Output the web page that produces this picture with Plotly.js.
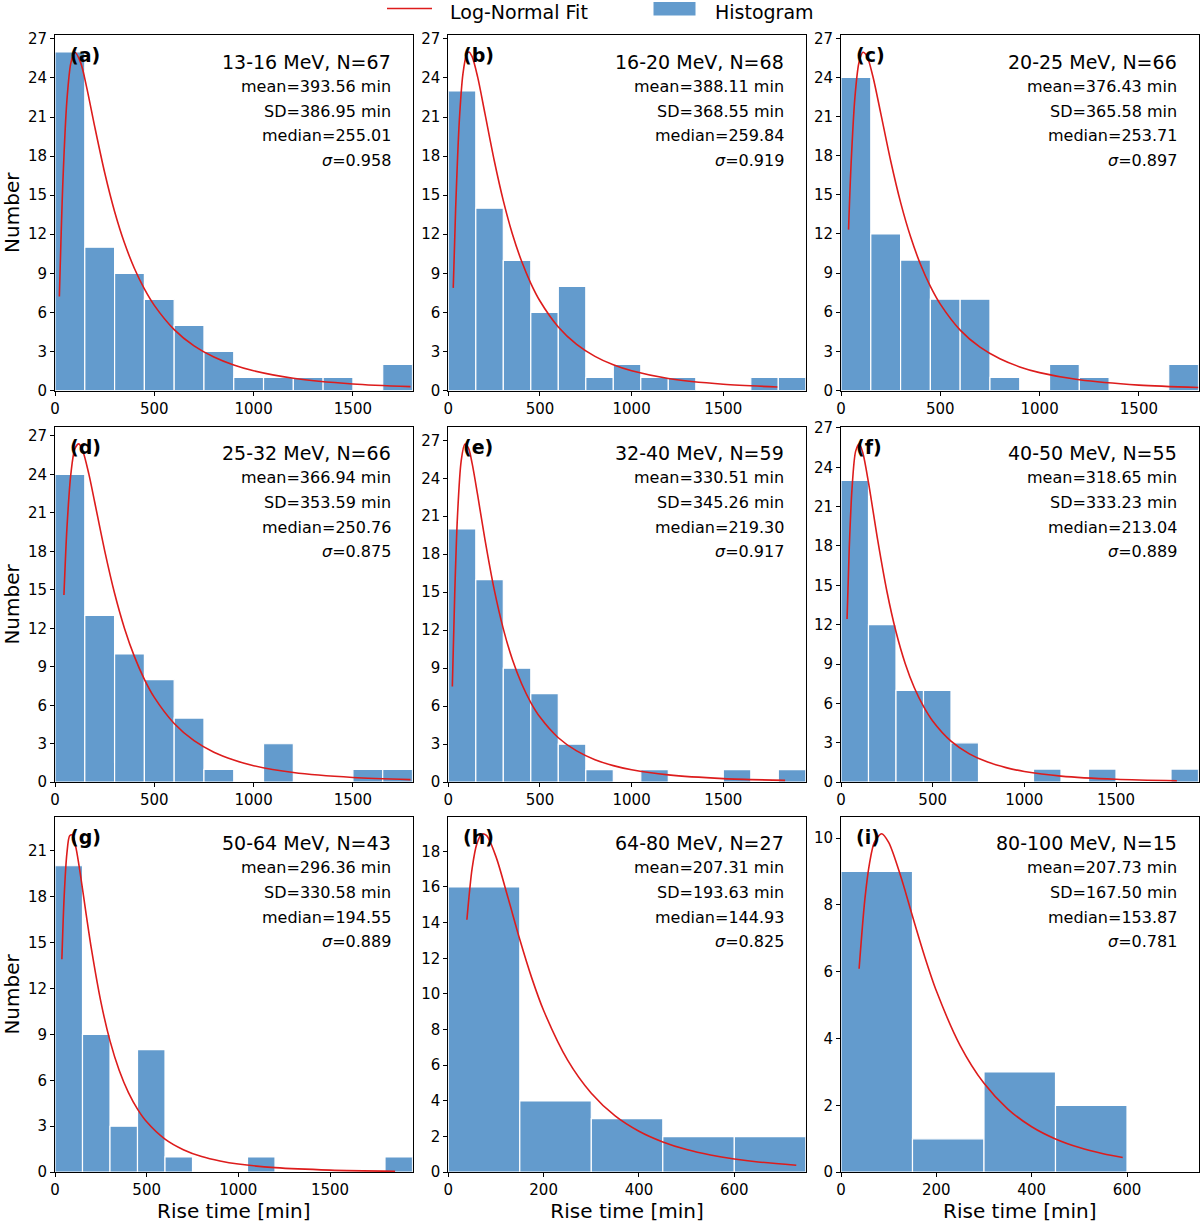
<!DOCTYPE html>
<html>
<head>
<meta charset="utf-8">
<script src="https://cdn.plot.ly/plotly-3.0.1.min.js"></script>
<style>html,body{margin:0;padding:0;background:#fff;}</style>
</head>
<body>
<div id="chart" style="width:1200px;height:1223px;"></div>
<script>
// ---------------- DATA ----------------
const BIN_WIDTH = 150;
const panelLabels = ['(a)','(b)','(c)','(d)','(e)','(f)','(g)','(h)','(i)'];
const energyBands = ['13-16 MeV','16-20 MeV','20-25 MeV','25-32 MeV','32-40 MeV','40-50 MeV','50-64 MeV','64-80 MeV','80-100 MeV'];
const nEvents = [67,68,66,66,59,55,43,27,15];
const meanVals = ['393.56','388.11','376.43','366.94','330.51','318.65','296.36','207.31','207.73'];
const sdVals = ['386.95','368.55','365.58','353.59','345.26','333.23','330.58','193.63','167.50'];
const medianVals = ['255.01','259.84','253.71','250.76','219.30','213.04','194.55','144.93','153.87'];
const sigmaVals = ['0.958','0.919','0.897','0.875','0.917','0.889','0.889','0.825','0.781'];
const legendNames = ['Log-Normal Fit','Histogram'];

// histogram counts per 150-min bin, starting at 0
const counts_a = [26,11,9,7,5,3,1,1,1,1,0,2];
const counts_b = [23,14,10,6,8,1,2,1,1,0,0,1,1];
const counts_c = [24,12,10,7,7,1,0,2,1,0,0,2];
const counts_d = [24,13,10,8,5,1,0,3,0,0,1,1];
const counts_e = [20,16,9,7,3,1,0,1,0,0,1,0,1];
const counts_f = [23,12,7,7,3,0,0,1,0,1,0,0,1];
const counts_g = [20,9,3,8,1,0,0,1,0,0,0,0,1];
const counts_h = [16,4,3,2,2];
const counts_i = [9,1,3,2,0];

// log-normal fit curves
const fitX_a = [22,40,60,80,100,130,160,200,250,300,350,400,450,500,600,700,800,900,1000,1200,1500,1790];
const fitY_a = [7.22,16.13,22.29,25.16,25.97,25.14,23.24,20.26,16.74,13.75,11.32,9.37,7.80,6.54,4.68,3.43,2.57,1.955,1.51,0.944,0.504,0.295];
const fitX_b = [27,40,60,80,100,112,130,160,200,250,300,350,400,450,500,600,700,800,900,1000,1200,1500,1795];
const fitY_b = [7.88,13.93,20.69,24.34,25.81,26.0,25.64,24.08,21.26,17.70,14.58,12.00,9.92,8.23,6.87,4.88,3.54,2.62,1.97,1.51,0.923,0.479,0.270];
const fitX_c = [38,50,70,90,110,130,160,200,250,300,350,400,450,500,600,700,800,900,1000,1200,1500,1800];
const fitY_c = [12.33,17.09,22.45,25.10,25.93,25.65,24.11,21.26,17.61,14.42,11.80,9.68,7.98,6.62,4.63,3.32,2.43,1.81,1.37,0.818,0.412,0.225];
const fitX_d = [45,60,80,100,120,140,170,200,250,300,350,400,450,500,600,700,800,900,1000,1200,1500,1790];
const fitY_d = [14.60,19.79,24.06,25.99,26.38,25.83,24.06,21.83,18.06,14.73,11.99,9.79,8.02,6.61,4.58,3.24,2.34,1.73,1.29,0.759,0.372,0.202];
const fitX_e = [22,35,50,70,90,110,130,160,200,250,300,350,400,450,500,600,700,800,900,1000,1200,1500,1837];
const fitY_e = [7.55,14.85,20.99,25.33,26.69,26.37,25.17,22.68,19.15,15.24,12.11,9.66,7.77,6.29,5.14,3.51,2.47,1.78,1.31,0.979,0.576,0.285,0.143];
const fitX_f = [33,45,60,80,100,120,150,200,250,300,350,400,450,500,600,700,800,900,1000,1200,1500,1832];
const fitY_f = [12.43,17.83,22.34,25.23,25.79,25.05,22.83,18.46,14.57,11.46,9.05,7.20,5.78,4.67,3.13,2.16,1.53,1.11,0.816,0.466,0.222,0.108];
const fitX_g = [37.5,50,65,80,95,115,140,170,200,250,300,350,400,450,500,600,700,800,900,1000,1200,1500,1855];
const fitY_g = [13.9,18.00,20.82,21.95,22.01,21.13,19.31,16.83,14.47,11.13,8.57,6.65,5.21,4.12,3.29,2.16,1.47,1.02,0.729,0.531,0.297,0.138,0.063];
const fitX_h = [39,50,60,70,80,100,125,150,175,200,250,300,350,400,450,500,550,600,650,730];
const fitY_h = [14.16,17.04,18.43,18.96,18.89,17.70,15.42,13.05,10.90,9.07,6.30,4.43,3.16,2.30,1.70,1.27,0.964,0.741,0.576,0.393];
const fitX_i = [38,50,60,70,85,100,125,150,175,200,250,300,350,400,450,500,550,591];
const fitY_i = [6.09,8.16,9.26,9.87,10.13,9.87,8.87,7.66,6.48,5.43,3.79,2.66,1.89,1.36,0.994,0.736,0.553,0.441];

// axis extents and ticks
const xMax = [1800,1950,1800,1800,1950,1950,1950,750,750];
const yMax = [27.3,27.3,27.25,27.72,28.07,27.09,23.2,19.94,10.64];
const xTicksWide = [0,500,1000,1500];
const xTicksNarrow = [0,200,400,600];
const yTicks27 = [0,3,6,9,12,15,18,21,24,27];
const yTicks21 = [0,3,6,9,12,15,18,21];
const yTicks18 = [0,2,4,6,8,10,12,14,16,18];
const yTicks10 = [0,2,4,6,8,10];

// ---------------- BUILD ----------------
const allCounts = [counts_a,counts_b,counts_c,counts_d,counts_e,counts_f,counts_g,counts_h,counts_i];
const allFitX = [fitX_a,fitX_b,fitX_c,fitX_d,fitX_e,fitX_f,fitX_g,fitX_h,fitX_i];
const allFitY = [fitY_a,fitY_b,fitY_c,fitY_d,fitY_e,fitY_f,fitY_g,fitY_h,fitY_i];
const xTickSets = [xTicksWide,xTicksWide,xTicksWide,xTicksWide,xTicksWide,xTicksWide,xTicksWide,xTicksNarrow,xTicksNarrow];
const yTickSets = [yTicks27,yTicks27,yTicks27,yTicks27,yTicks27,yTicks27,yTicks21,yTicks18,yTicks10];

const W = 1200, H = 1223;
const colLeft = [55, 448.3, 841];
const plotW = 357.5;
const rowTop = [35, 426.7, 816.7];
const plotH = 355.5;

const FONT = 'DejaVu Sans';
const BAR_COLOR = '#639bcd';
const FIT_COLOR = '#dd1c1c';

const traces = [];
const layout = {
  width: W, height: H,
  margin: {l:0, r:0, t:0, b:0},
  paper_bgcolor: '#fff', plot_bgcolor: '#fff',
  font: {family: FONT, color: '#000', size: 15},
  bargap: 0,
  showlegend: false,
  annotations: [],
  shapes: []
};

for (let k = 0; k < 9; k++) {
  const r = Math.floor(k / 3), c = k % 3;
  const sfx = k === 0 ? '' : String(k + 1);
  const xa = 'x' + sfx, ya = 'y' + sfx;
  const counts = allCounts[k];
  const centers = counts.map((_, i) => i * BIN_WIDTH + BIN_WIDTH / 2);
  traces.push({
    type: 'bar', x: centers, y: counts.map(v => v === 0 ? null : v),
    width: BIN_WIDTH, xaxis: xa, yaxis: ya,
    marker: {color: BAR_COLOR, line: {color: '#ffffff', width: 1.2}},
    name: legendNames[1], hoverinfo: 'skip'
  });
  traces.push({
    type: 'scatter', mode: 'lines', x: allFitX[k], y: allFitY[k],
    xaxis: xa, yaxis: ya,
    line: {color: FIT_COLOR, width: 1.6, shape: 'spline', smoothing: 0.8},
    name: legendNames[0], hoverinfo: 'skip'
  });

  const x0 = colLeft[c] / W, x1 = (colLeft[c] + plotW) / W;
  const y1 = 1 - rowTop[r] / H, y0 = 1 - (rowTop[r] + plotH) / H;
  const axCommon = {
    showline: true, linecolor: '#000', linewidth: 1, mirror: true,
    ticks: 'outside', ticklen: 4, tickwidth: 1, tickcolor: '#000',
    showgrid: false, zeroline: false, fixedrange: true,
    tickfont: {family: FONT, size: 15, color: '#000'}
  };
  layout['xaxis' + sfx] = Object.assign({}, axCommon, {
    domain: [x0, x1], anchor: ya, range: [0, xMax[k]],
    tickmode: 'array', tickvals: xTickSets[k], ticktext: xTickSets[k].map(String),
    title: r === 2 ? {text: 'Rise time [min]', font: {family: FONT, size: 20, color: '#000'}, standoff: 4} : {text: ''}
  });
  layout['yaxis' + sfx] = Object.assign({}, axCommon, {
    domain: [y0, y1], anchor: xa, range: [0, yMax[k]],
    tickmode: 'array', tickvals: yTickSets[k], ticktext: yTickSets[k].map(String),
    title: c === 0 ? {text: 'Number', font: {family: FONT, size: 20, color: '#000'}, standoff: 8} : {text: ''}
  });

  const xd = xa + ' domain', yd = ya + ' domain';
  const tx = 1 - 19.5 / plotW;
  const lines = [
    {t: energyBands[k] + ', N=' + nEvents[k], off: 26.5, size: 19},
    {t: 'mean=' + meanVals[k] + ' min', off: 51, size: 16},
    {t: 'SD=' + sdVals[k] + ' min', off: 76, size: 16},
    {t: 'median=' + medianVals[k], off: 100.5, size: 16},
    {t: '<i>σ</i>=' + sigmaVals[k], off: 125, size: 16}
  ];
  lines.forEach(L => layout.annotations.push({
    xref: xd, yref: yd, x: tx, y: 1 - L.off / plotH, xanchor: 'right', yanchor: 'middle',
    text: L.t, showarrow: false, font: {family: FONT, size: L.size, color: '#000'}
  }));
  layout.annotations.push({
    xref: xd, yref: yd, x: 12.5 / plotW, y: 1 - 20 / plotH, xanchor: 'left', yanchor: 'middle',
    text: '<b>' + panelLabels[k] + '</b>', showarrow: false,
    font: {family: FONT, size: 19, color: '#000'}
  });
}

// figure legend (top centre)
const px = v => v / W, py = v => 1 - v / H;
layout.shapes.push({type: 'line', xref: 'paper', yref: 'paper',
  x0: px(387), x1: px(432), y0: py(8.5), y1: py(8.5), line: {color: FIT_COLOR, width: 1.6}});
layout.shapes.push({type: 'rect', xref: 'paper', yref: 'paper',
  x0: px(653), x1: px(696), y0: py(1.5), y1: py(16), fillcolor: BAR_COLOR, line: {color: '#ffffff', width: 1}});
layout.annotations.push({xref: 'paper', yref: 'paper', x: px(449), y: py(0), xanchor: 'left', yanchor: 'top',
  text: legendNames[0], showarrow: false, borderpad: 0, font: {family: FONT, size: 19, color: '#000'}});
layout.annotations.push({xref: 'paper', yref: 'paper', x: px(714), y: py(0), xanchor: 'left', yanchor: 'top',
  text: legendNames[1], showarrow: false, borderpad: 0, font: {family: FONT, size: 19, color: '#000'}});

Plotly.newPlot('chart', traces, layout, {displayModeBar: false, staticPlot: true});
</script>
</body>
</html>
